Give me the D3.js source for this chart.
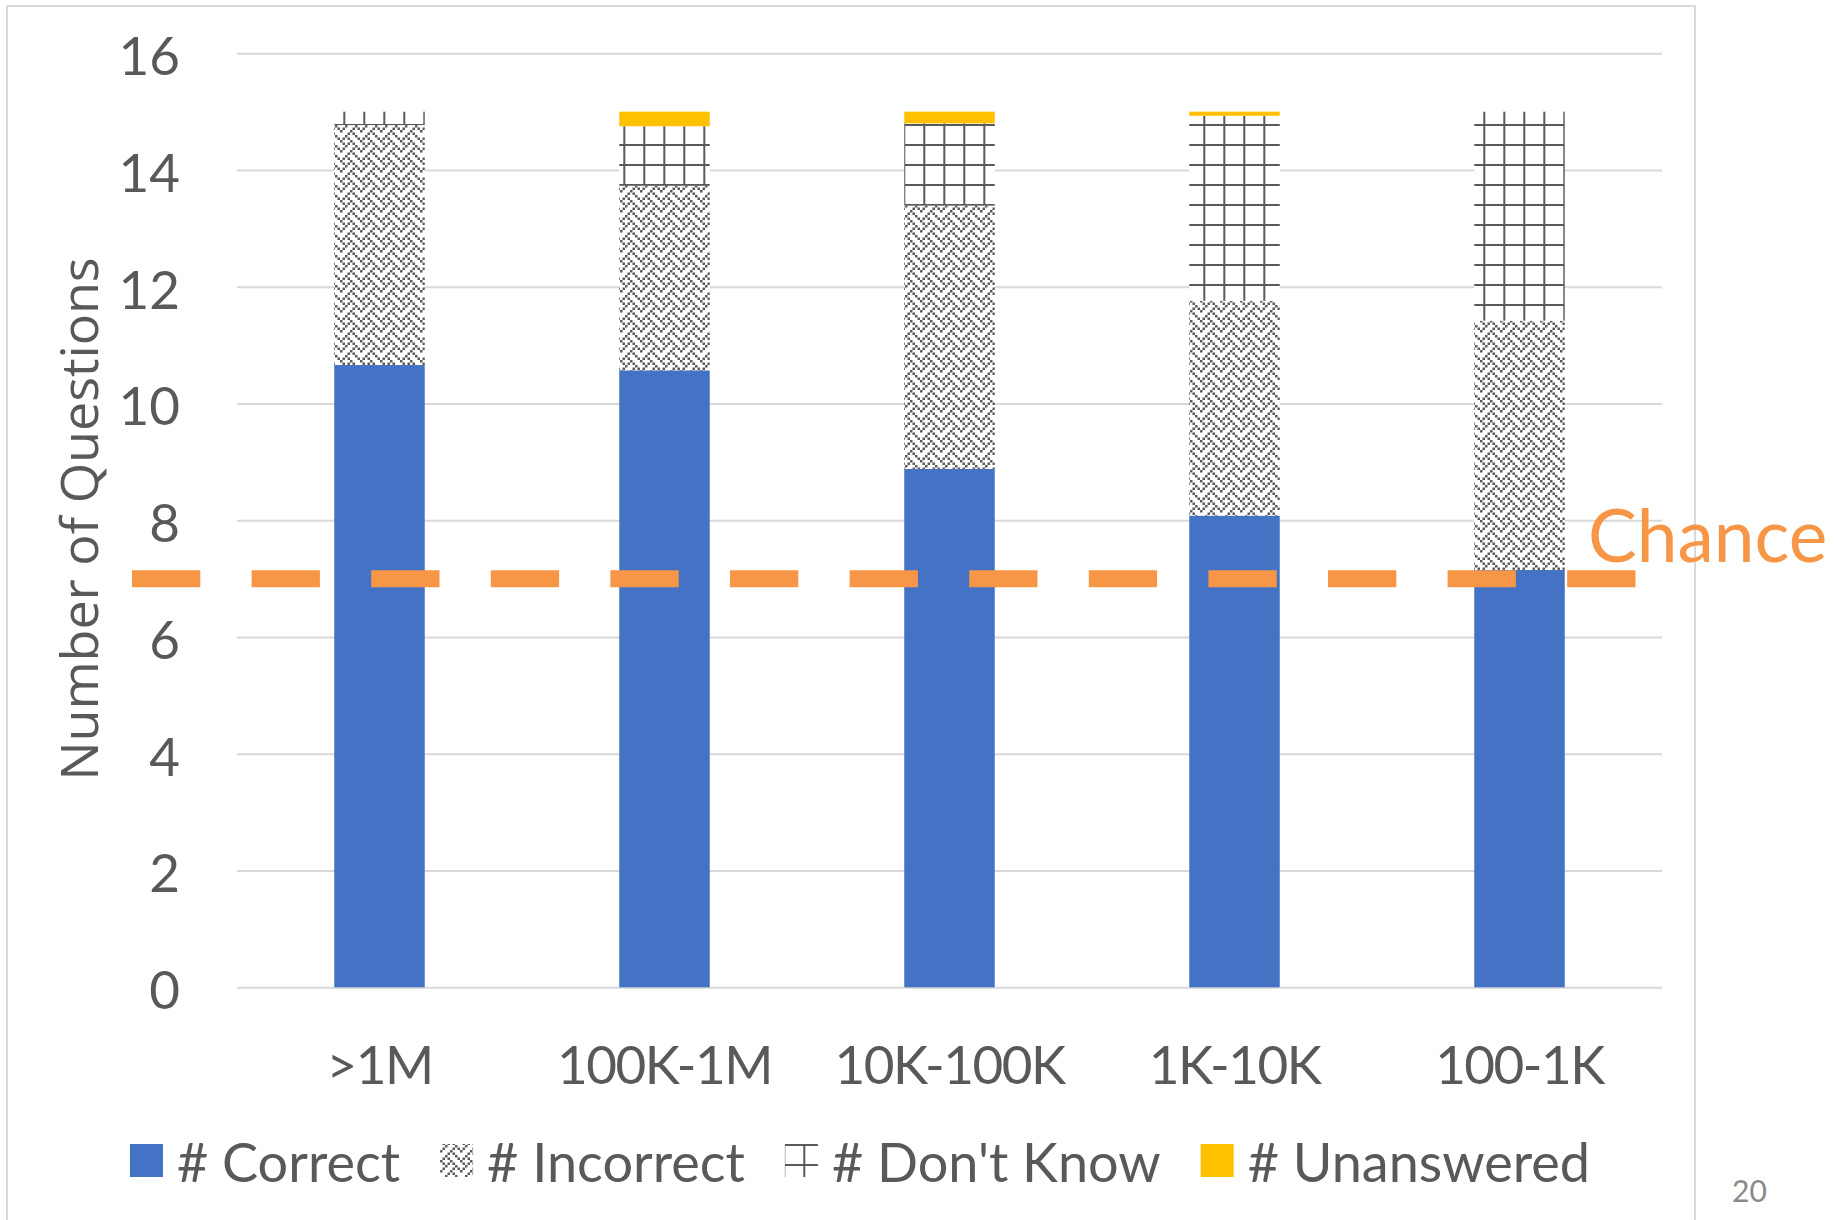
<!DOCTYPE html>
<html>
<head>
<meta charset="utf-8">
<script src="https://cdn.jsdelivr.net/npm/d3@7"></script>
<style>
  body { margin: 0; background: #fff; }
  text { font-family: Lato, "Open Sans", sans-serif; fill: #595959; }
</style>
</head>
<body>
<div id="chart"></div>
<script>
// values
var categories = [">1M", "100K-1M", "10K-100K", "1K-10K", "100-1K"];
var correct = [10.66, 10.57, 8.88, 8.08, 7.15];
var incorrect = [4.11, 3.16, 4.51, 3.68, 4.27];
var dontKnow = [0.23, 1.02, 1.41, 3.17, 3.58];
var unanswered = [0, 0.25, 0.20, 0.07, 0];
var seriesKeys = ["correct", "incorrect", "dontKnow", "unanswered"];
var seriesNames = ["# Correct", "# Incorrect", "# Don't Know", "# Unanswered"];
var yTicks = [0, 2, 4, 6, 8, 10, 12, 14, 16];
var chanceValue = 7;
var chanceLabel = "Chance";
var yTitle = "Number of Questions";
var pageNumber = "20";

var svgWidth = 1844;
var svgHeight = 1220;

var plot = { left: 237, right: 1662, top: 53.3, bottom: 987.3 };

var colors = {
  correct: "#4472C4",
  incorrect: "url(#incorrectPattern)",
  dontKnow: "url(#dontKnowPattern)",
  unanswered: "#FFC000"
};

var svg = d3.select("#chart")
  .append("svg")
  .attr("width", svgWidth)
  .attr("height", svgHeight);

// Patterns (tiles anchored to the svg origin, like the office fills)
var defs = svg.append("defs");

// "weave" 8x8 bitmap, each bit drawn 2.5px
var weaveRows = [0x88, 0x54, 0x22, 0x45, 0x88, 0x14, 0x22, 0x51];
var weave = defs.append("pattern")
  .attr("id", "incorrectPattern")
  .attr("patternUnits", "userSpaceOnUse")
  .attr("width", 20)
  .attr("height", 20);
weave.append("rect").attr("width", 20).attr("height", 20).attr("fill", "#fff");
weaveRows.forEach(function(row, r) {
  for (var c = 0; c < 8; c++) {
    if (row & (0x80 >> c)) {
      weave.append("rect")
        .attr("x", c * 2.5)
        .attr("y", r * 2.5)
        .attr("width", 2.5)
        .attr("height", 2.5)
        .attr("fill", "#5a5a5a");
    }
  }
});

var grid = defs.append("pattern")
  .attr("id", "dontKnowPattern")
  .attr("patternUnits", "userSpaceOnUse")
  .attr("x", 3.3)
  .attr("y", 4)
  .attr("width", 20)
  .attr("height", 20);
grid.append("rect").attr("width", 20).attr("height", 20).attr("fill", "#fff");
grid.append("rect").attr("x", 0).attr("y", 0).attr("width", 2).attr("height", 20).attr("fill", "#595959");
grid.append("rect").attr("x", 0).attr("y", 0).attr("width", 20).attr("height", 2).attr("fill", "#595959");

// chart frame
svg.append("rect")
  .attr("x", 7)
  .attr("y", 6)
  .attr("width", 1688)
  .attr("height", 1300)
  .attr("fill", "none")
  .attr("stroke", "#d9d9d9")
  .attr("stroke-width", 2);

// Scales
var xScale = d3.scaleBand()
  .domain(categories)
  .range([plot.left, plot.right])
  .paddingInner(0.6825)
  .paddingOuter(0.34125);

var yScale = d3.scaleLinear()
  .domain([0, 16])
  .range([plot.bottom, plot.top]);

// Y axis with gridlines
var yAxis = svg.append("g")
  .attr("transform", `translate(${plot.left}, 0)`)
  .call(d3.axisLeft(yScale).tickValues(yTicks).tickSize(-(plot.right - plot.left)).tickPadding(57));
yAxis.select(".domain").remove();
yAxis.selectAll("line").attr("stroke", "#d9d9d9").attr("stroke-width", 2);
yAxis.selectAll("text")
  .attr("dy", "0.4em")
  .style("font-size", "53px")
  .style("font-family", "Lato, sans-serif")
  .attr("fill", "#595959");

// X axis labels
var xAxis = svg.append("g")
  .attr("transform", `translate(0, ${plot.bottom})`)
  .call(d3.axisBottom(xScale).tickSize(0).tickPadding(59));
xAxis.select(".domain").remove();
xAxis.selectAll("text")
  .style("font-size", "53px")
  .style("letter-spacing", "-1.5px")
  .style("font-family", "Lato, sans-serif")
  .attr("fill", "#595959");

// Stacked bars
var table = categories.map(function(c, i) {
  return { cat: c, correct: correct[i], incorrect: incorrect[i], dontKnow: dontKnow[i], unanswered: unanswered[i] };
});
var stacked = d3.stack().keys(seriesKeys)(table);

svg.append("g")
  .selectAll("g")
  .data(stacked)
  .enter()
  .append("g")
  .attr("fill", d => colors[d.key])
  .selectAll("rect")
  .data(d => d)
  .enter()
  .append("rect")
  .attr("x", d => xScale(d.data.cat))
  .attr("y", d => yScale(d[1]))
  .attr("width", xScale.bandwidth())
  .attr("height", d => yScale(d[0]) - yScale(d[1]));

// Chance line
svg.append("line")
  .attr("x1", 132)
  .attr("x2", 1636)
  .attr("y1", yScale(chanceValue))
  .attr("y2", yScale(chanceValue))
  .attr("stroke", "#F79646")
  .attr("stroke-width", 17)
  .attr("stroke-dasharray", "68.3 51.3");

svg.append("text")
  .attr("x", 1588)
  .attr("y", yScale(chanceValue) - 17)
  .style("font-size", "73px")
  .style("fill", "#F79646")
  .text(chanceLabel);

// Y title
svg.append("text")
  .attr("transform", "translate(98, 519) rotate(-90)")
  .attr("text-anchor", "middle")
  .style("font-family", "'Open Sans', sans-serif")
  .style("font-size", "52px")
  .text(yTitle);

// Legend
var legend = svg.append("g");
var legendItems = [];
seriesKeys.forEach(function(k, i) {
  var sw = legend.append("rect")
    .attr("y", 1144)
    .attr("width", 33)
    .attr("height", 33)
    .attr("fill", colors[k]);
  var tx = legend.append("text")
    .attr("y", 1181.7)
    .style("font-size", "54px")
    .text(seriesNames[i]);
  legendItems.push({ sw: sw, tx: tx, w: tx.node().getComputedTextLength() });
});
var total = d3.sum(legendItems, d => 33 + 14 + d.w) + 40 * (legendItems.length - 1);
var lx = 860 - total / 2;
legendItems.forEach(function(d) {
  d.sw.attr("x", lx);
  d.tx.attr("x", lx + 47);
  lx += 47 + d.w + 40;
});

// page number
svg.append("text")
  .attr("x", 1732)
  .attr("y", 1202)
  .style("font-size", "30px")
  .style("fill", "#898989")
  .text(pageNumber);
</script>
</body>
</html>
